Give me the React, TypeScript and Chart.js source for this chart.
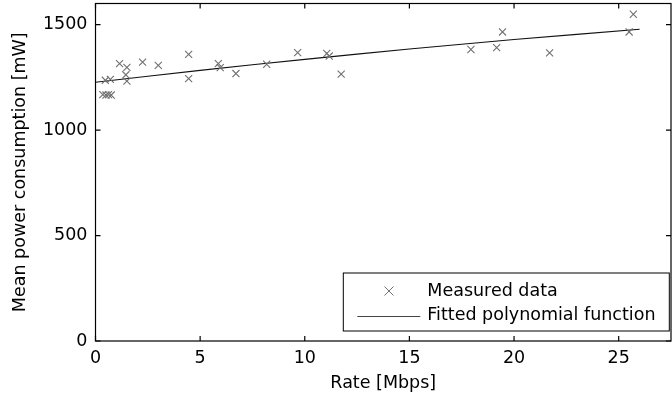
import React, { useEffect, useRef } from "react";
import { Chart, registerables } from "chart.js";

Chart.register(...registerables);

// ---- data ----
const measuredRate = [
  0.35, 0.5, 0.62, 0.75, 0.47, 0.71, 1.15, 1.5, 1.45, 1.5, 2.25, 3.0,
  4.45, 4.45, 5.87, 5.96, 6.71, 8.18, 9.66, 11.05, 11.17, 11.74,
  17.94, 19.17, 19.45, 21.7, 25.5, 25.7,
];
const measuredPower = [
  1168, 1166, 1168, 1166, 1236, 1240, 1315, 1297, 1262, 1232, 1322, 1307,
  1359, 1244, 1315, 1296, 1268, 1312, 1367, 1363, 1351, 1265,
  1382, 1391, 1465, 1366, 1465, 1549,
];
const fitRate = [0, 5, 10, 15, 20, 26];
const fitPower = [1227, 1283, 1335, 1384, 1429, 1478];

const xTicks = [0, 5, 10, 15, 20, 25];
const yTicks = [0, 500, 1000, 1500];
const xLimits = [0, 27.5];
const yLimits = [0, 1600];

const xTitle = "Rate [Mbps]";
const yTitle = "Mean power consumption [mW]";
const legendLabels = ["Measured data", "Fitted polynomial function"];

const FONT_FAMILY = "'DejaVu Sans', 'Liberation Sans', sans-serif";
const FONT_SIZE = 17.5;
const MARKER_COLOR = "#707070";
const LINE_COLOR = "#111111";

const framePlugin = {
  id: "frameAndLegend",
  afterDraw(chart: any) {
    const { ctx, chartArea: a, scales } = chart;
    ctx.save();
    // box
    ctx.strokeStyle = "#000";
    ctx.lineWidth = 1.2;
    ctx.strokeRect(a.left, a.top, a.right - a.left, a.bottom - a.top);
    // inward ticks
    const tl = 5;
    ctx.beginPath();
    scales.x.ticks.forEach((t: any) => {
      const px = scales.x.getPixelForValue(t.value);
      ctx.moveTo(px, a.bottom);
      ctx.lineTo(px, a.bottom - tl);
      ctx.moveTo(px, a.top);
      ctx.lineTo(px, a.top + tl);
    });
    scales.y.ticks.forEach((t: any) => {
      const py = scales.y.getPixelForValue(t.value);
      ctx.moveTo(a.left, py);
      ctx.lineTo(a.left + tl, py);
      ctx.moveTo(a.right, py);
      ctx.lineTo(a.right - tl, py);
    });
    ctx.stroke();

    // legend
    const lw = 326;
    const lh = 58;
    const lx = a.right - 1.7 - lw;
    const ly = a.bottom - 10 - lh;
    ctx.fillStyle = "#fff";
    ctx.fillRect(lx, ly, lw, lh);
    ctx.lineWidth = 1;
    ctx.strokeStyle = "#000";
    ctx.strokeRect(lx, ly, lw, lh);

    const r1 = ly + 18;
    const r2 = ly + 42.5;
    // marker
    const mx = lx + 45.7;
    const m = 4.5;
    ctx.strokeStyle = MARKER_COLOR;
    ctx.lineWidth = 1;
    ctx.beginPath();
    ctx.moveTo(mx - m, r1 - m);
    ctx.lineTo(mx + m, r1 + m);
    ctx.moveTo(mx + m, r1 - m);
    ctx.lineTo(mx - m, r1 + m);
    ctx.stroke();
    // line sample
    ctx.strokeStyle = "#444";
    ctx.beginPath();
    ctx.moveTo(lx + 14, Math.round(r2) + 0.5);
    ctx.lineTo(lx + 77, Math.round(r2) + 0.5);
    ctx.stroke();
    // labels
    ctx.fillStyle = "#000";
    ctx.font = `${FONT_SIZE}px ${FONT_FAMILY}`;
    ctx.textBaseline = "middle";
    ctx.textAlign = "left";
    ctx.fillText(legendLabels[0], lx + 84, r1);
    ctx.fillText(legendLabels[1], lx + 84, r2);
    ctx.restore();
  },
};

export default function App() {
  const canvasRef = useRef<HTMLCanvasElement | null>(null);

  useEffect(() => {
    document.body.style.margin = "0";
    const canvas = canvasRef.current;
    if (!canvas) return;
    const font = { family: FONT_FAMILY, size: FONT_SIZE };
    const chart = new Chart(canvas, {
      type: "scatter",
      data: {
        datasets: [
          {
            label: legendLabels[0],
            data: measuredRate.map((x, i) => ({ x, y: measuredPower[i] })),
            pointStyle: "crossRot",
            pointRadius: 5,
            pointBorderWidth: 1.1,
            borderColor: MARKER_COLOR,
            backgroundColor: MARKER_COLOR,
            showLine: false,
          },
          {
            label: legendLabels[1],
            data: fitRate.map((x, i) => ({ x, y: fitPower[i] })),
            showLine: true,
            pointRadius: 0,
            borderColor: LINE_COLOR,
            borderWidth: 1.1,
            tension: 0.4,
          },
        ],
      },
      options: {
        responsive: false,
        animation: false,
        layout: { autoPadding: false, padding: { left: 0, top: 3.5, right: 1, bottom: 0 } },
        plugins: {
          legend: { display: false },
          tooltip: { enabled: false },
        },
        scales: {
          x: {
            type: "linear",
            min: xLimits[0],
            max: xLimits[1],
            afterBuildTicks: (s: any) => {
              s.ticks = xTicks.map((v) => ({ value: v }));
            },
            afterFit: (s: any) => {
              s.height = 60;
              s.paddingLeft = 0;
              s.paddingRight = 0;
            },
            grid: { display: false, drawTicks: false },
            border: { display: false },
            ticks: {
              color: "#000",
              font,
              padding: 7,
              maxRotation: 0,
              callback: (v: any) => String(v),
            },
            title: {
              display: true,
              text: xTitle,
              color: "#000",
              font,
              padding: { top: 0, bottom: 7 },
            },
          },
          y: {
            type: "linear",
            min: yLimits[0],
            max: yLimits[1],
            afterBuildTicks: (s: any) => {
              s.ticks = yTicks.map((v) => ({ value: v }));
            },
            afterFit: (s: any) => {
              s.width = 95.5;
              s.paddingTop = 0;
              s.paddingBottom = 0;
            },
            grid: { display: false, drawTicks: false },
            border: { display: false },
            ticks: {
              color: "#000",
              font,
              padding: 8,
              callback: (v: any) => String(v),
            },
            title: {
              display: true,
              text: yTitle,
              color: "#000",
              font,
              padding: { top: 10, bottom: 0 },
            },
          },
        },
      },
      plugins: [framePlugin],
    });
    return () => chart.destroy();
  }, []);

  return (
    <div style={{ width: 672, height: 401 }}>
      <canvas ref={canvasRef} width={672} height={401} style={{ display: "block" }} />
    </div>
  );
}
